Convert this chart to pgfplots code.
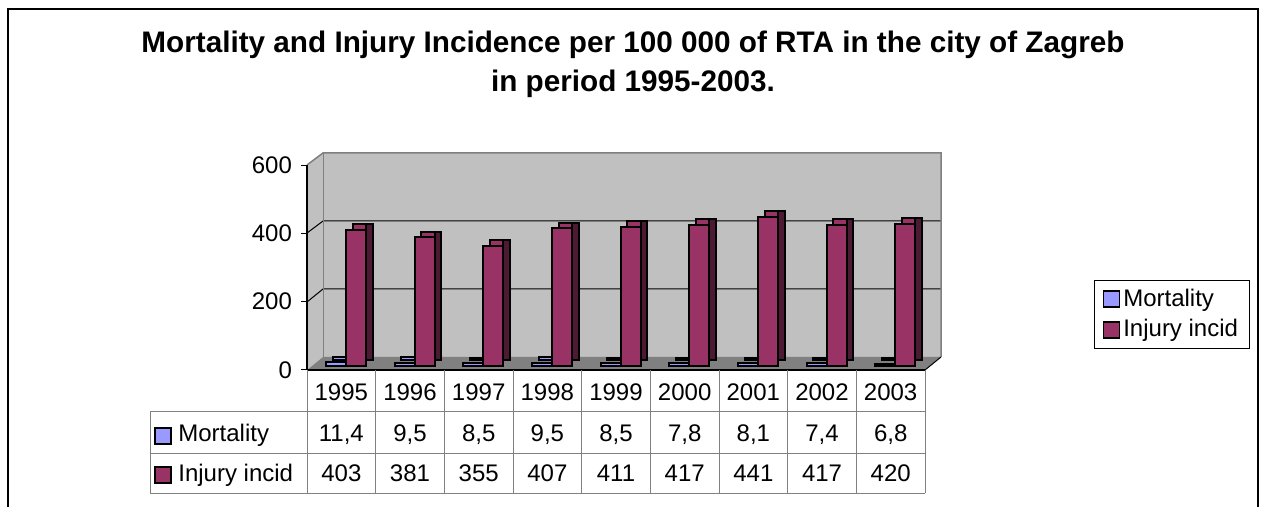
\documentclass[border=0pt]{standalone}
\usepackage{fontspec}
\setmainfont{Liberation Sans}
\usepackage{pgfplots}
\usepackage{pgfplotstable}
\pgfplotsset{compat=1.18}
\definecolor{wall}{HTML}{C0C0C0}
\definecolor{floorc}{HTML}{808080}
\definecolor{inj}{HTML}{993366}
\definecolor{injdark}{HTML}{4D1A33}
\definecolor{mort}{HTML}{9999FF}
\definecolor{mortdark}{HTML}{4C4C80}
\definecolor{tline}{HTML}{808080}
\newcommand\tf{\fontsize{12}{14.4}\selectfont}

\pgfplotstableread{
x y
0 11.4
1 9.5
2 8.5
3 9.5
4 8.5
5 7.8
6 8.1
7 7.4
8 6.8
}\mort
\pgfplotstableread{
x y
0 403
1 381
2 355
3 407
4 411
5 417
6 441
7 417
8 420
}\inj

\begin{document}
\begin{tikzpicture}
\begin{scope}[x=0.5pt,y=-0.5pt]
\useasboundingbox (0,0) rectangle (1263,507);
\fill[white] (0,0) rectangle (1263,507);
\draw[line width=0.75pt] (8,507) -- (8,9) -- (1258,9) -- (1258,507);
\node[font=\bfseries\fontsize{14.85}{18}\selectfont, anchor=base] at (633,53) {Mortality and Injury Incidence per 100 000 of RTA in the city of Zagreb};
\node[font=\bfseries\fontsize{14.85}{18}\selectfont, anchor=base] at (633,92) {in period 1995-2003.};
% walls and floor
\fill[wall] (307,370) -- (307,165) -- (323,153) -- (323,357) -- cycle;
\fill[wall] (323,153) rectangle (941,357);
\fill[floorc] (307,370) -- (925,370) -- (941,357) -- (323,357) -- cycle;
\draw[line width=0.5pt] (307,233) -- (323,221) -- (941,221);
\draw[line width=0.5pt] (307,302) -- (323,289) -- (941,289);
\draw[tline, line width=0.75pt] (307,165) -- (323,153) -- (941,153) -- (941,357);
\draw[tline, line width=0.5pt] (323,153) -- (323,357);
\draw[line width=0.5pt] (925,370) -- (941,357);
\end{scope}

\begin{axis}[at={(153.5pt,-185pt)}, anchor=south west, scale only axis,
  width=309pt, height=102.5pt, xmin=-0.5, xmax=8.5, ymin=0, ymax=600,
  axis x line*=bottom, axis y line*=left, axis line style={-, line width=0.75pt},
  ytick={0,200,400,600}, tick align=outside, major tick length=3pt,
  tick style={line width=0.5pt, black},
  xtick={0,...,8}, xticklabels={1995,1996,1997,1998,1999,2000,2001,2002,2003},
  x tick style={draw=none},
  xticklabel style={anchor=base, yshift=-12.15pt},
  ticklabel style={font=\tf},
  yticklabel style={xshift=-1pt},
  /pgf/number format/assume math mode=true]
\addplot[draw=none] coordinates {(0,0)};
\end{axis}

\begin{axis}[at={(153.5pt,-183pt)}, anchor=south west, scale only axis,
  width=309pt, height=101.5pt, xmin=-0.5, xmax=8.5, ymin=0, ymax=600,
  hide axis, clip=false,
  legend style={at={(1.2735,0.4236)}, anchor=north west, draw=black, line width=0.5pt,
    font=\tf, inner xsep=4pt, inner ysep=3.1pt, row sep=3.2pt,
    nodes={inner xsep=1.5pt, inner ysep=1pt}},
  legend cell align=left,
  legend image code/.code={\draw[#1, line width=0.9pt] (0pt,-4pt) rectangle (8pt,4pt);}]
\addplot[ybar, bar width=10pt, bar shift=-2.65pt, xshift=3.25pt, yshift=2.75pt, fill=mort, draw=black, line width=1pt, forget plot] table {\mort};
\addplot[ybar, bar width=3.25pt, bar shift=0.725pt, xshift=3.25pt, yshift=2.75pt, fill=mortdark, draw=black, line width=1pt, forget plot] table {\mort};
\addplot[ybar, bar width=10pt, bar shift=-2.65pt, fill=mort, draw=black, line width=1pt] table {\mort};
\addlegendentry{Mortality}
\addplot[ybar, bar width=10pt, bar shift=7.35pt, xshift=3.25pt, yshift=2.75pt, fill=inj, draw=black, line width=1pt, forget plot] table {\inj};
\addplot[ybar, bar width=3.25pt, bar shift=10.725pt, xshift=3.25pt, yshift=2.75pt, fill=injdark, draw=black, line width=1pt, forget plot] table {\inj};
\addplot[ybar, bar width=10pt, bar shift=7.35pt, fill=inj, draw=black, line width=1pt] table {\inj};
\addlegendentry{Injury incid\hspace{3pt}}
\end{axis}

\begin{scope}[x=0.5pt,y=-0.5pt]
% table grid
\draw[tline, line width=0.5pt] (150,412) -- (925,412) (150,453) -- (925,453) (150,493) -- (925,493);
\draw[tline, line width=0.5pt] (150,412) -- (150,493);
\foreach \k in {0,...,9} {\draw[tline, line width=0.5pt] ({307+68.67*\k},370) -- ({307+68.67*\k},493);}
\draw[fill=mort, line width=1pt] (155,428) rectangle (171,444);
\draw[fill=inj, line width=1pt] (155,467) rectangle (171,483);
\node[font=\tf, anchor=base west, inner sep=0pt] at (178,441.7) {Mortality};
\node[font=\tf, anchor=base west, inner sep=0pt] at (178,481) {Injury incid};
\foreach \v/\w [count=\i from 0] in {{11,4}/403,{9,5}/381,{8,5}/355,{9,5}/407,{8,5}/411,{7,8}/417,{8,1}/441,{7,4}/417,{6,8}/420} {
  \node[font=\tf, anchor=base, inner sep=0pt] at ({307+68.67*(\i+0.5)},441.7) {\v};
  \node[font=\tf, anchor=base, inner sep=0pt] at ({307+68.67*(\i+0.5)},481) {\w};
}
\end{scope}
\end{tikzpicture}
\end{document}
